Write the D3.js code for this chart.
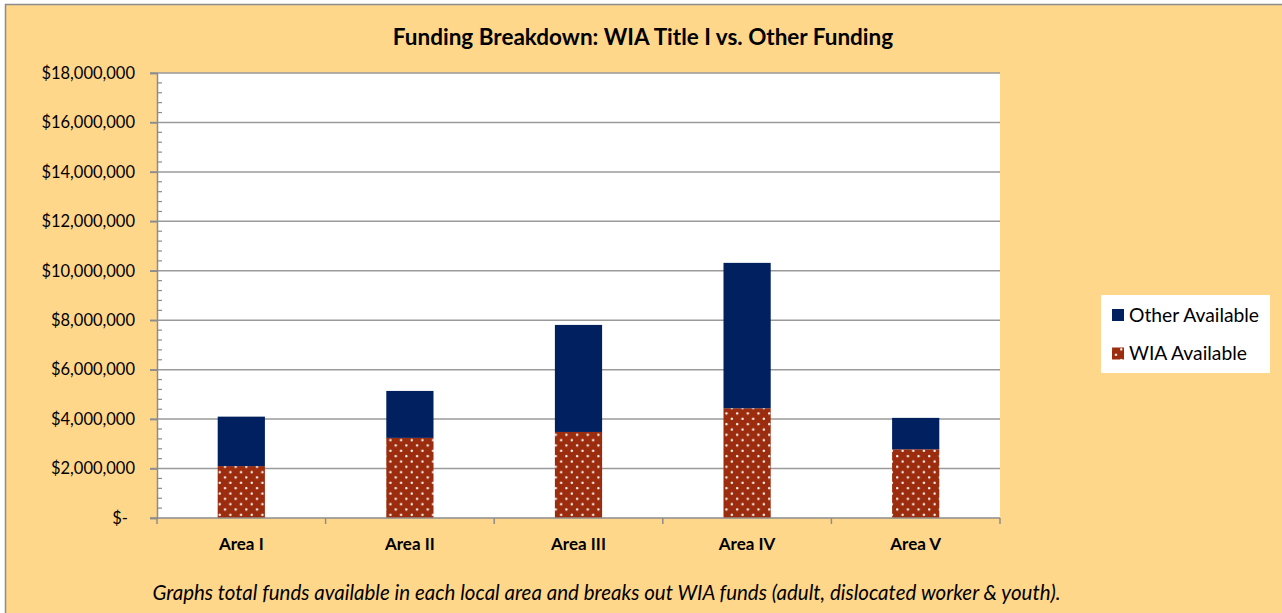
<!DOCTYPE html>
<html><head><meta charset="utf-8">
<script src="https://cdn.jsdelivr.net/npm/d3@7"></script>
<style>html,body{margin:0;padding:0;background:#fff;}svg{display:block;}</style>
</head><body>
<svg id="c" width="1282" height="613"></svg>
<script>
const categories = ["Area I", "Area II", "Area III", "Area IV", "Area V"];
const wiaAvailable = [2100000, 3240000, 3480000, 4440000, 2780000];
const otherAvailable = [2000000, 1900000, 4330000, 5880000, 1270000];
const yTicks = [0, 2000000, 4000000, 6000000, 8000000, 10000000, 12000000, 14000000, 16000000, 18000000];
const seriesNames = ["Other Available", "WIA Available"];
const titleText = "Funding Breakdown: WIA Title I vs. Other Funding";
const captionText = "Graphs total funds available in each local area and breaks out WIA funds (adult, dislocated worker & youth).";

(function () {
const FONT = "Lato, 'Open Sans', sans-serif";
const svg = d3.select("#c");
const bg = "#FFD78B";
const navy = "#002060";
const rust = "#9B2C0E";

svg.append("rect").attr("x", 5.5).attr("y", 4.5).attr("width", 1300).attr("height", 640)
  .attr("fill", bg).attr("stroke", "#8c8c8c").attr("stroke-width", 1.5);

const defs = svg.append("defs");
const pat = defs.append("pattern").attr("id", "dots").attr("patternUnits", "userSpaceOnUse")
  .attr("width", 10.67).attr("height", 10.67).attr("x", 217).attr("y", 0);
pat.append("rect").attr("width", 10.67).attr("height", 10.67).attr("fill", rust);
const radial = defs.append("radialGradient").attr("id", "dg");
radial.append("stop").attr("offset", "0%").attr("stop-color", "#fff");
radial.append("stop").attr("offset", "40%").attr("stop-color", "#fff");
radial.append("stop").attr("offset", "100%").attr("stop-color", rust);
[[2.7, 2.7], [8.0, 8.0]].forEach(([cx, cy]) => {
  pat.append("circle").attr("cx", cx).attr("cy", cy).attr("r", 1.7).attr("fill", "url(#dg)");
});

const pl = 157, pr = 1000, pt = 73, pb = 518;
const x = d3.scaleBand().domain(categories).range([pl, pr]).paddingInner(0).paddingOuter(0);
const y = d3.scaleLinear().domain([0, 18000000]).range([pb, pt]);

svg.append("rect").attr("x", pl).attr("y", pt).attr("width", pr - pl).attr("height", pb - pt).attr("fill", "#fff");

svg.append("g").selectAll("line").data(yTicks.filter(d => d > 0)).join("line")
  .attr("x1", pl - 7).attr("x2", pr).attr("y1", d => y(d)).attr("y2", d => y(d))
  .attr("stroke", "#9a9a9a").attr("stroke-width", 1.5);

const barW = x.bandwidth() * 0.28;
const stackData = categories.map((c, i) => ({ c, wia: wiaAvailable[i], other: otherAvailable[i] }));
const g = svg.append("g");
g.selectAll("rect.wia").data(stackData).join("rect").attr("class", "wia")
  .attr("x", d => x(d.c) + (x.bandwidth() - barW) / 2).attr("width", barW)
  .attr("y", d => y(d.wia)).attr("height", d => y(0) - y(d.wia)).attr("fill", "url(#dots)");
g.selectAll("rect.other").data(stackData).join("rect").attr("class", "other")
  .attr("x", d => x(d.c) + (x.bandwidth() - barW) / 2).attr("width", barW)
  .attr("y", d => y(d.wia + d.other)).attr("height", d => y(d.wia) - y(d.wia + d.other)).attr("fill", navy);

const yAxis = d3.axisLeft(y).tickValues(yTicks).tickSize(7).tickPadding(15)
  .tickFormat(d => d === 0 ? "$-" : "$" + d3.format(",")(d));
const ya = svg.append("g").attr("transform", `translate(${pl},0)`).call(yAxis);
ya.select(".domain").attr("stroke", "#8c8c8c").attr("stroke-width", 1.5);
ya.selectAll(".tick line").attr("stroke", "#8c8c8c").attr("stroke-width", 1.5);
ya.selectAll(".tick text").attr("font-family", FONT).attr("font-size", 16.5).attr("fill", "#000")
  .attr("dx", d => d === 0 ? -7 : 0);
const minor = d3.range(0, 18000001, 400000).filter(v => v % 2000000 !== 0);
svg.append("g").selectAll("line").data(minor).join("line")
  .attr("x1", pl).attr("x2", pl + 5).attr("y1", d => y(d)).attr("y2", d => y(d))
  .attr("stroke", "#8c8c8c").attr("stroke-width", 1.2);

const xa = svg.append("g").attr("transform", `translate(0,${pb})`);
xa.append("line").attr("x1", pl - 7).attr("x2", pr).attr("stroke", "#8c8c8c").attr("stroke-width", 1.5);
const bounds = categories.map(c => x(c)).concat([pr]);
xa.selectAll("line.t").data(bounds).join("line").attr("class", "t")
  .attr("x1", d => d).attr("x2", d => d).attr("y1", 0).attr("y2", 6)
  .attr("stroke", "#8c8c8c").attr("stroke-width", 1.5);
xa.selectAll("text").data(categories).join("text")
  .attr("x", d => x(d) + x.bandwidth() / 2).attr("y", 32).attr("text-anchor", "middle")
  .attr("font-family", FONT).attr("font-weight", "bold").attr("font-size", 17).text(d => d);

svg.append("text").attr("x", 643).attr("y", 45).attr("text-anchor", "middle")
  .attr("font-family", FONT).attr("font-weight", "bold").attr("font-size", 22.5).text(titleText);

svg.append("text").attr("x", 606.5).attr("y", 600).attr("text-anchor", "middle")
  .attr("font-family", FONT).attr("font-style", "italic").attr("font-size", 20.5).text(captionText);

const lg = svg.append("g");
lg.append("rect").attr("x", 1101).attr("y", 295).attr("width", 169).attr("height", 78).attr("fill", "#fff");
const legendFills = [navy, "url(#dots)"];
seriesNames.forEach((n, i) => {
  const yy = 315 + i * 38.5;
  lg.append("rect").attr("x", 1112).attr("y", yy - 6).attr("width", 12).attr("height", 12).attr("fill", legendFills[i]);
  lg.append("text").attr("x", 1129).attr("y", yy + 6.5).attr("font-family", FONT).attr("font-size", 19.3).text(n);
});
})();
</script>
</body></html>
